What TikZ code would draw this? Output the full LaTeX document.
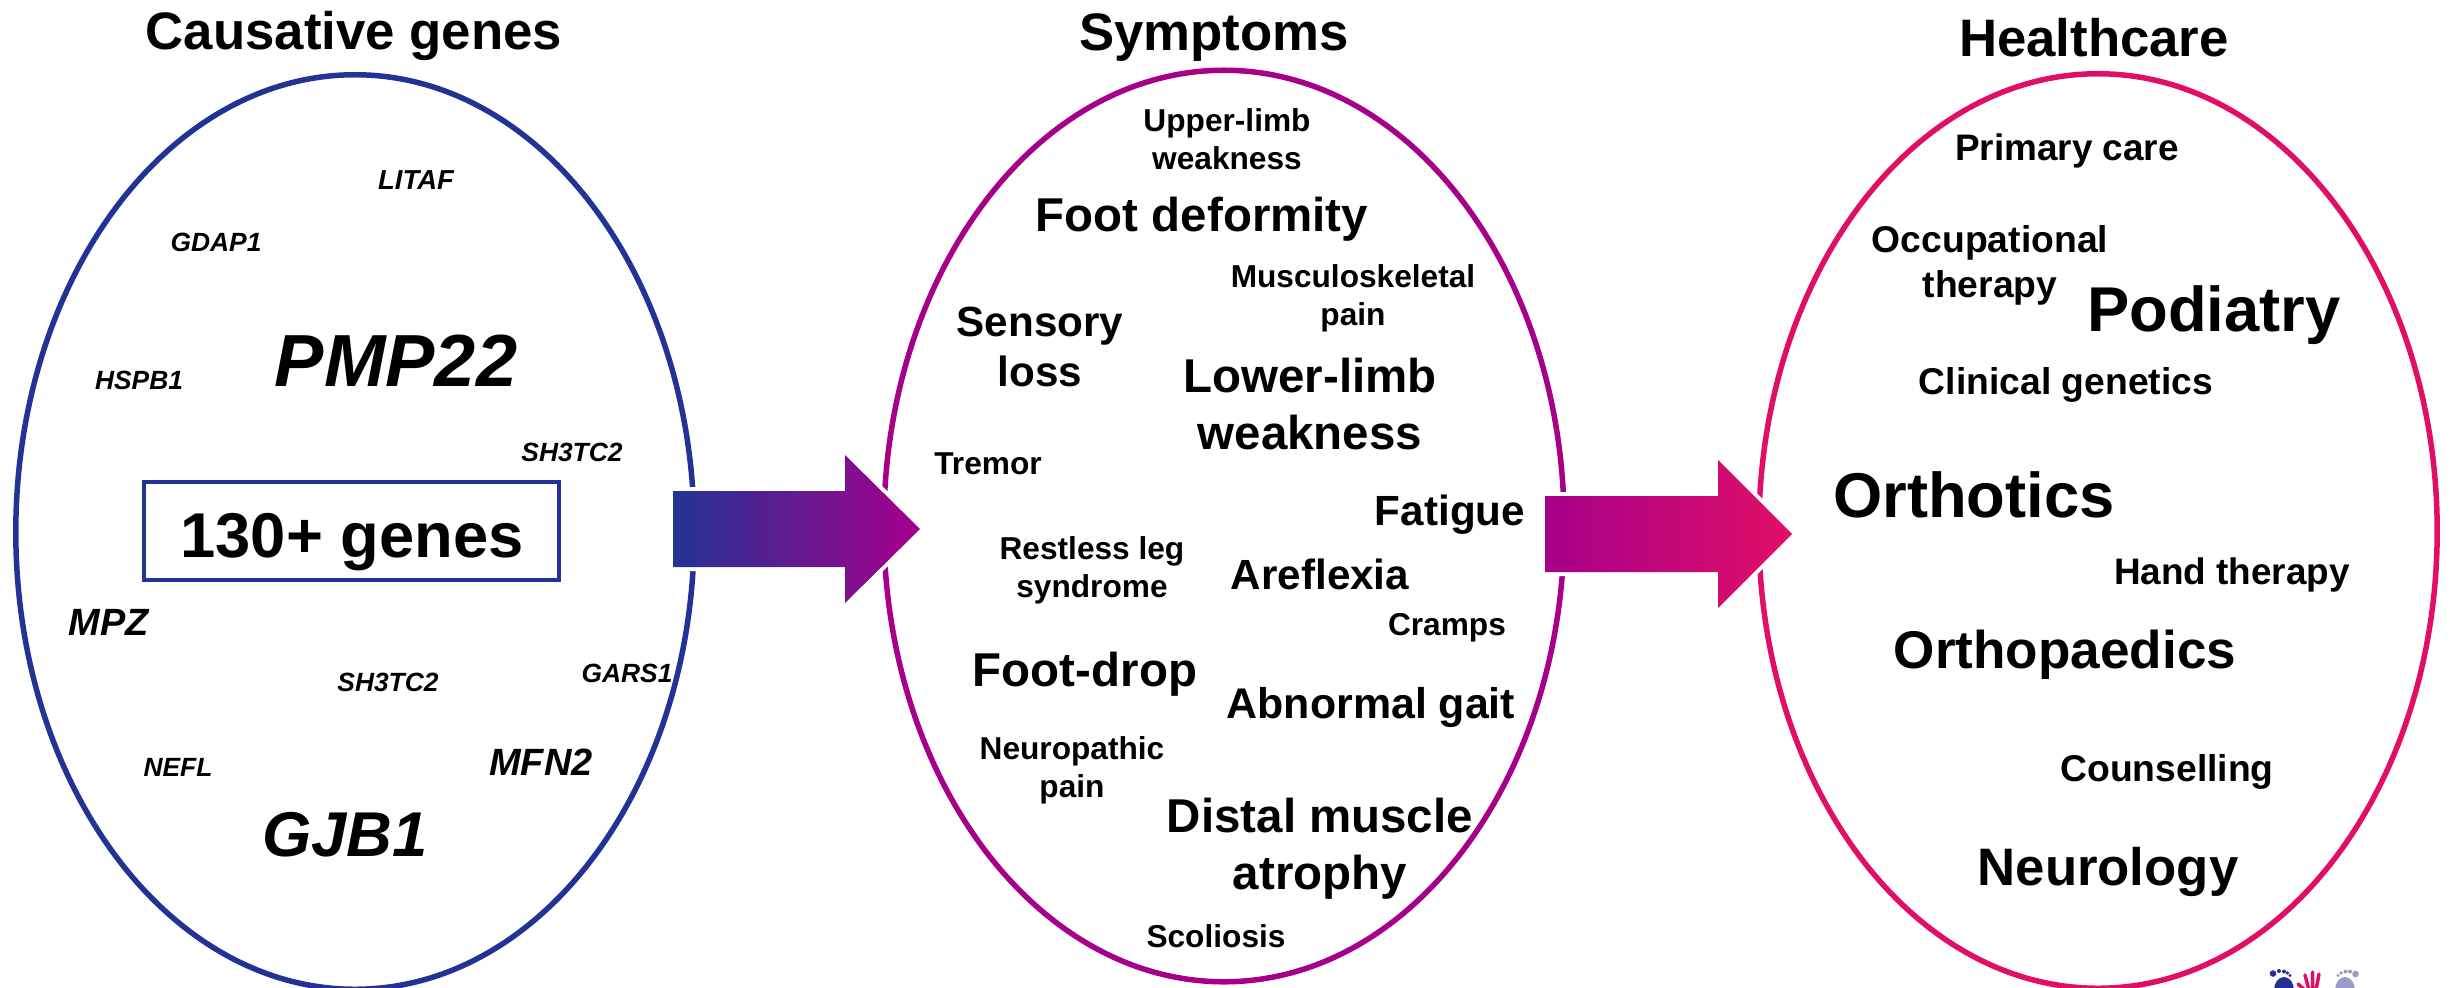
\documentclass[tikz,border=0pt]{standalone}
\usepackage{fontspec}
\setmainfont{Liberation Sans}
\usetikzlibrary{shapes.geometric}
\definecolor{cblue}{HTML}{233395}
\definecolor{cpurple}{HTML}{A6008B}
\definecolor{cpink}{HTML}{E10E67}
\definecolor{clight}{HTML}{9A9AC8}
\tikzset{
  oval/.style={ellipse,draw=#1,line width=0.055cm,fill=none,inner sep=0pt},
  lbl/.style={font=\fontsize{#1}{\dimexpr #1*12/10\relax}\selectfont\bfseries,inner sep=0pt,align=center,text=black},
  gene/.style={font=\fontsize{#1}{\dimexpr #1*12/10\relax}\selectfont\bfseries\itshape,inner sep=0pt,align=center,text=black},
  halo/.style={draw=white,line width=0.08cm,miter limit=10},
}
\def\arrowone{(673,491) -- (845,491) -- (845,455) -- (920,529) -- (845,603) -- (845,567) -- (673,567) -- cycle}
\def\arrowtwo{(1545,496) -- (1718,496) -- (1718,460) -- (1792,534) -- (1718,608) -- (1718,572) -- (1545,572) -- cycle}
\begin{document}
\begin{tikzpicture}[x=0.01cm,y=-0.01cm]
\useasboundingbox (0,0) rectangle (2450,987);
\clip (0,0) rectangle (2450,987);
% ovals
\node[oval=cblue,minimum width=6.78cm,minimum height=9.14cm] (genes) at (355,532) {};
\node[oval=cpurple,minimum width=6.80cm,minimum height=9.11cm] (symptoms) at (1224,526) {};
\node[oval=cpink,minimum width=6.78cm,minimum height=9.14cm] (care) at (2098,531) {};
% block arrows
\path[halo] \arrowone;
\shade[left color=cblue,right color=cpurple] \arrowone;
\path[halo] \arrowtwo;
\shade[left color=cpurple,right color=cpink] \arrowtwo;
% titles
\node[lbl=15pt] (t1) at (354,36) {Causative genes};
\node[lbl=15pt] (t2) at (1214,38) {Symptoms};
\node[lbl=15pt] (t3) at (2094,38) {Healthcare};
% genes
\node[draw=cblue,line width=0.04cm,minimum width=4.15cm,minimum height=0.98cm,inner sep=0pt] (box) at (351.5,531) {};
\node[lbl=18pt] (n130) at (352,542) {130+ genes};
\node[gene=7.8pt] (g1) at (416,180) {LITAF};
\node[gene=7.5pt] (g2) at (216,242) {GDAP1};
\node[gene=21pt] (g3) at (396,361) {PMP22};
\node[gene=7.5pt] (g4) at (139,380) {HSPB1};
\node[gene=7.5pt] (g5) at (572,452) {SH3TC2};
\node[gene=10.8pt] (g6) at (109,622) {MPZ};
\node[gene=7.5pt] (g7) at (388,682) {SH3TC2};
\node[gene=7.5pt] (g8) at (627,673) {GARS1};
\node[gene=7.5pt] (g9) at (178,767) {NEFL};
\node[gene=10.8pt] (g10) at (541,762) {MFN2};
\node[gene=18pt] (g11) at (345,835) {GJB1};
% symptoms
\node[lbl=9pt] (s1) at (1227,139) {Upper-limb\\weakness};
\node[lbl=13.5pt] (s2) at (1202,219) {Foot deformity};
\node[lbl=9pt] (s3) at (1353,298) {Musculoskeletal\\pain};
\node[lbl=12pt] (s4) at (1040,347) {Sensory\\loss};
\node[lbl=13.5pt] (s5) at (1310,404) {Lower-limb\\weakness};
\node[lbl=9pt] (s6) at (988,464) {Tremor};
\node[lbl=12pt] (s7) at (1450,515) {Fatigue};
\node[lbl=9pt] (s8) at (1092,570) {Restless leg\\syndrome};
\node[lbl=12pt] (s9) at (1320,574) {Areflexia};
\node[lbl=9pt] (s10) at (1447,628) {Cramps};
\node[lbl=13.5pt] (s11) at (1085,674) {Foot-drop};
\node[lbl=12.2pt] (s12) at (1371,707) {Abnormal gait};
\node[lbl=9pt] (s13) at (1072,770) {Neuropathic\\pain};
\node[lbl=13.5pt] (s14) at (1320,849) {Distal muscle\\atrophy};
\node[lbl=9pt] (s15) at (1216,936) {Scoliosis};
% healthcare
\node[lbl=10.5pt] (h1) at (2067,151) {Primary care};
\node[lbl=10.6pt] (h2) at (1990,265) {Occupational\\therapy};
\node[lbl=18pt] (h3) at (2214,315) {Podiatry};
\node[lbl=10.6pt] (h4) at (2066,385) {Clinical genetics};
\node[lbl=18pt] (h5) at (1974,495) {Orthotics};
\node[lbl=10.5pt] (h6) at (2232,575) {Hand therapy};
\node[lbl=15.1pt] (h7) at (2065,655) {Orthopaedics};
\node[lbl=10.6pt] (h8) at (2167,772) {Counselling};
\node[lbl=15pt] (h9) at (2108,872) {Neurology};
% logo
\fill[cblue] (2284,990) ellipse (10 and 13);
\foreach \p/\q/\r in {2273/973.5/3.3,2279/971/2,2284/971.5/2,2287.5/973/1.8,2290/975.5/1.6}{\fill[cblue] (\p,\q) circle[radius=\r*0.01cm];}
\fill[clight] (2345,990) ellipse (10 and 13);
\foreach \p/\q/\r in {2355.5/974/3.3,2350/971.5/2,2345.5/971.5/2,2341/973/1.8,2338/975.5/1.6}{\fill[clight] (\p,\q) circle[radius=\r*0.01cm];}
\draw[cpink,line width=0.035cm,line cap=round] (2305,975) -- (2309,990) (2312.5,972) -- (2312.5,990) (2319,974) -- (2316,990) (2298,984) -- (2305,990);
\end{tikzpicture}
\end{document}
